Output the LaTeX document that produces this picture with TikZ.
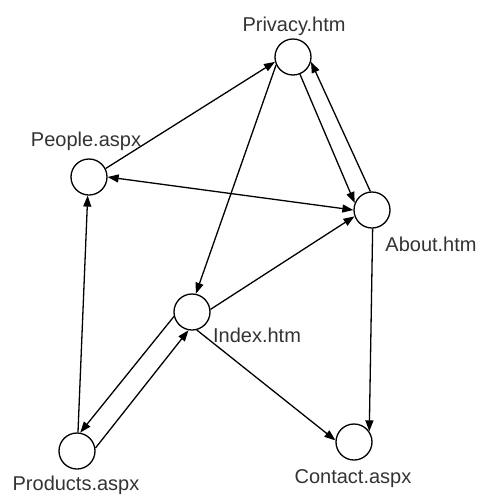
\documentclass[tikz,border=0pt]{standalone}
\usepackage{fontspec}
\setmainfont{Liberation Sans}
\usetikzlibrary{arrows.meta}

\begin{document}
\begin{tikzpicture}[
  x=1pt, y=-1pt,
  page/.style={draw, circle, line width=1.3pt, minimum size=36pt, inner sep=0pt},
  lbl/.style={anchor=base, inner sep=0pt, text=black!80, font=\fontsize{20}{24}\selectfont},
  arrow/.style={-{Triangle[length=11pt,width=8pt]}, line width=1.3pt},
  twoway/.style={{Triangle[length=11pt,width=8pt]}-{Triangle[length=11pt,width=8pt]}, line width=1.3pt}
]
\useasboundingbox (0,0) rectangle (482,496);

\node[page] (priv) at (293,57) {};
\node[page] (ppl) at (89,177) {};
\node[page] (abt) at (372,210) {};
\node[page] (idx) at (192,312) {};
\node[page] (prod) at (77,451) {};
\node[page] (cnt) at (354,442) {};

\node[lbl] (priv-l) at (294,31) {Privacy.htm};
\node[lbl] (ppl-l) at (86,146) {People.aspx};
\node[lbl] (abt-l) at (431,251) {About.htm};
\node[lbl] (idx-l) at (257,342) {Index.htm};
\node[lbl] (prod-l) at (76,490) {Products.aspx};
\node[lbl] (cnt-l) at (353,483) {Contact.aspx};

\draw[arrow] (ppl.27) -- (priv.195);
\draw[arrow] (priv.205) -- (idx.78);
\draw[arrow] (priv.292) -- (abt.158);
\draw[arrow] (abt.95) -- (priv.345);
\draw[twoway] (ppl.0) -- (abt.180);
\draw[arrow] (idx.8) -- (abt.200);
\draw[arrow] (idx.285) -- (cnt.175);
\draw[arrow] (abt.272) -- (cnt.35);
\draw[arrow] (prod.87) -- (ppl.266);
\draw[arrow] (idx.194) -- (prod.80);
\draw[arrow] (prod.9) -- (idx.259);
\end{tikzpicture}
\end{document}
